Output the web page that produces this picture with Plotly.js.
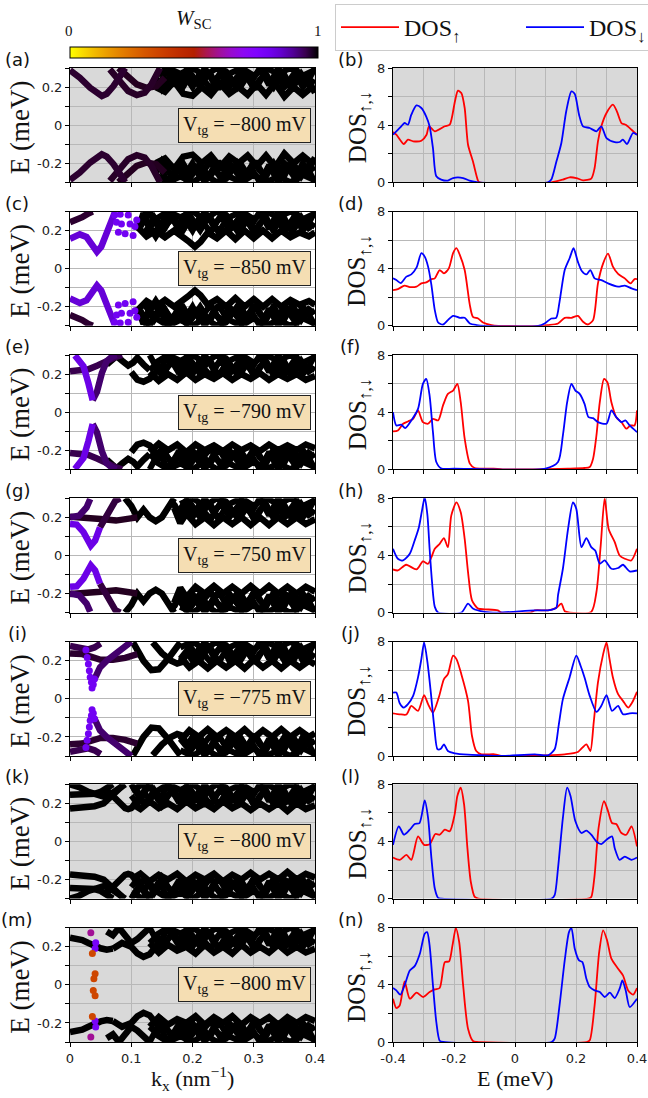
<!DOCTYPE html>
<html><head><meta charset="utf-8">
<script src="https://cdn.plot.ly/plotly-3.0.1.min.js"></script>
<style>body{margin:0;background:#fff}#plot{width:648px;height:1098px}</style>
</head><body><div id="plot"></div>
<script>
// ================= DATA =================
// Right column: DOS curves (E in meV, DOS)
const b_up_E=[-0.4,-0.389,-0.365,-0.351,-0.334,-0.307,-0.29,-0.282,-0.263,-0.23,-0.214,-0.197,-0.187,-0.176,-0.165,-0.154,-0.138,-0.121,-0.116,0.119,0.157,0.179,0.201,0.223,0.25,0.261,0.272,0.283,0.3,0.321,0.334,0.349,0.363,0.382,0.4];
const b_up=[3.52,3.33,2.68,2.98,2.87,2.91,3.33,3.92,3.57,3.92,4.03,5.66,6.41,6.25,5.2,2.63,1.47,0.1,0,0,0.19,0.35,0.3,0.14,0.26,1.0,2.87,3.92,4.85,5.43,4.97,4.15,4.03,3.68,3.33];
const b_dn_E=[-0.4,-0.389,-0.373,-0.362,-0.351,-0.34,-0.323,-0.307,-0.291,-0.28,-0.269,-0.258,-0.242,-0.22,-0.203,-0.17,-0.149,-0.121,0.108,0.119,0.136,0.152,0.168,0.185,0.196,0.21,0.223,0.245,0.267,0.283,0.3,0.327,0.343,0.354,0.367,0.387,0.4];
const b_dn=[3.33,3.57,3.92,4.15,4.03,4.73,5.38,5.2,4.6,3.92,2.4,0.42,0.19,0.12,0.3,0.3,0.12,0,0,0.19,1.47,2.75,4.97,6.36,6.18,4.73,3.92,3.8,3.57,3.92,3.1,2.82,2.82,2.98,2.68,3.45,3.33];

const d_up_E=[-0.4,-0.384,-0.362,-0.345,-0.323,-0.307,-0.291,-0.274,-0.263,-0.247,-0.233,-0.217,-0.203,-0.192,-0.181,-0.165,-0.148,-0.138,-0.121,-0.105,-0.077,-0.055,0.087,0.108,0.141,0.163,0.185,0.206,0.223,0.239,0.256,0.272,0.289,0.305,0.321,0.338,0.36,0.379,0.392,0.4];
const d_up=[2.5,2.57,2.81,2.71,2.74,2.97,3.04,3.27,3.32,3.9,3.67,4.02,5.08,5.43,4.96,3.9,1.45,0.63,0.51,0.23,0.05,0,0,0.05,0.16,0.56,0.56,0.7,0.28,0.09,0.4,2.97,4.37,5.05,4.14,3.63,3.32,2.97,3.27,3.27];
const d_dn_E=[-0.4,-0.389,-0.375,-0.356,-0.34,-0.323,-0.307,-0.296,-0.285,-0.274,-0.263,-0.252,-0.236,-0.22,-0.203,-0.181,-0.165,-0.148,-0.126,-0.1,0.076,0.097,0.119,0.135,0.146,0.163,0.179,0.192,0.206,0.219,0.234,0.247,0.261,0.283,0.305,0.338,0.36,0.382,0.4];
const d_dn=[3.32,3.2,2.99,3.44,3.6,4.07,5.08,4.84,4.14,2.85,1.1,0.23,0.09,0.4,0.7,0.56,0.56,0.16,0.05,0,0,0.16,0.51,0.56,1.68,3.9,4.73,5.43,4.49,3.84,3.6,3.9,3.32,3.2,2.97,2.74,2.81,2.62,2.5];

const f_up_E=[-0.4,-0.384,-0.367,-0.351,-0.334,-0.318,-0.302,-0.285,-0.269,-0.252,-0.236,-0.22,-0.203,-0.189,-0.178,-0.165,-0.148,-0.132,-0.1,-0.07,-0.04,0.174,0.228,0.245,0.256,0.267,0.278,0.292,0.303,0.316,0.332,0.349,0.365,0.378,0.392,0.4];
const f_up=[2.65,2.72,3.19,3.35,3.53,4.12,3.3,3.19,3.53,3.42,4.47,5.28,5.51,5.98,4.7,2.14,0.4,0.09,0.05,0.05,0,0.05,0.09,0.16,0.74,2.37,4.7,6.33,6.09,4.7,3.65,3.3,2.84,3.07,3.07,4.12];
const f_dn_E=[-0.4,-0.389,-0.373,-0.36,-0.34,-0.318,-0.302,-0.291,-0.28,-0.269,-0.258,-0.241,-0.2,0.1,0.141,0.157,0.171,0.185,0.198,0.212,0.228,0.241,0.256,0.272,0.3,0.316,0.332,0.349,0.362,0.376,0.4];
const f_dn=[4.0,3.07,3.12,2.88,3.42,4.23,5.98,6.33,5.16,2.6,0.51,0.05,0.05,0.05,0.51,2.37,4.7,5.98,5.51,5.28,4.58,3.65,3.58,3.3,3.19,4.12,3.65,3.3,3.42,3.07,2.6];

const h_up_E=[-0.4,-0.384,-0.357,-0.323,-0.302,-0.285,-0.274,-0.263,-0.247,-0.233,-0.22,-0.209,-0.192,-0.178,-0.165,-0.154,-0.141,-0.121,-0.099,-0.056,-0.045,0.05,0.065,0.108,0.135,0.152,0.163,0.18,0.25,0.267,0.281,0.294,0.307,0.327,0.343,0.36,0.381,0.4];
const h_up=[3.02,2.95,3.35,3.02,3.58,3.42,3.88,4.47,4.81,5.21,4.58,6.79,7.72,7.02,5.16,2.84,0.86,0.28,0.23,0.16,0,0,0.16,0.16,0.33,0.63,0.09,0,0.05,1.44,4.7,8.0,5.86,4.93,4.0,3.77,3.65,4.47];
const h_dn_E=[-0.4,-0.384,-0.367,-0.345,-0.329,-0.315,-0.305,-0.296,-0.287,-0.28,-0.272,-0.263,-0.252,-0.176,-0.154,-0.138,-0.1,-0.056,0.065,0.108,0.135,0.141,0.157,0.174,0.19,0.201,0.218,0.234,0.25,0.263,0.278,0.294,0.316,0.338,0.354,0.376,0.4];
const h_dn=[4.47,3.77,3.65,4.12,5.05,5.98,7.14,8.07,6.79,4.47,2.14,0.4,0,0,0.63,0.28,0.05,0,0.16,0.16,0.33,1.21,3.07,5.86,7.72,7.26,4.58,5.21,4.58,4.35,3.42,3.65,3.07,3.12,3.35,2.88,2.95];

const j_up_E=[-0.4,-0.378,-0.356,-0.34,-0.318,-0.298,-0.285,-0.269,-0.25,-0.233,-0.22,-0.203,-0.192,-0.176,-0.154,-0.141,-0.127,-0.11,-0.067,-0.04,0.1,0.163,0.206,0.234,0.247,0.258,0.272,0.289,0.3,0.31,0.321,0.338,0.354,0.371,0.384,0.4];
const j_up=[2.99,2.92,2.9,3.51,3.16,4.26,3.63,3.04,4.09,5.38,5.73,7.02,6.78,5.73,3.86,1.4,0.35,0.12,0.12,0,0.05,0.12,0.28,0.82,0.35,2.34,5.15,7.13,7.95,6.78,5.5,4.33,3.86,3.39,3.74,4.49];
const j_dn_E=[-0.4,-0.389,-0.378,-0.365,-0.351,-0.334,-0.318,-0.307,-0.298,-0.287,-0.276,-0.265,-0.254,-0.243,-0.233,-0.22,-0.198,-0.154,-0.1,-0.04,0.065,0.108,0.13,0.143,0.157,0.179,0.201,0.215,0.228,0.245,0.267,0.283,0.3,0.318,0.338,0.354,0.376,0.4];
const j_dn=[4.44,4.44,3.69,3.39,3.63,4.21,5.5,6.78,7.95,6.55,4.44,2.11,0.47,0.51,0.82,0.35,0.19,0.09,0.05,0,0.12,0.05,0.47,2.11,3.98,5.5,7.02,6.32,5.5,4.21,3.09,3.51,4.26,3.16,3.51,2.92,2.99,2.99];

const l_up_E=[-0.4,-0.378,-0.356,-0.34,-0.318,-0.298,-0.28,-0.261,-0.247,-0.23,-0.214,-0.198,-0.189,-0.178,-0.167,-0.156,-0.145,-0.132,-0.12,0.24,0.25,0.261,0.274,0.292,0.305,0.318,0.332,0.349,0.365,0.382,0.4];
const l_up=[2.87,2.71,3.06,2.71,4.35,3.76,3.81,4.52,4.47,4.82,4.71,5.88,7.18,7.76,6.59,3.53,1.18,0.12,0,0,0.12,1.65,4.94,6.82,6.12,5.29,5.22,4.59,4.47,5.06,3.65];
const l_dn_E=[-0.4,-0.381,-0.364,-0.345,-0.329,-0.313,-0.296,-0.285,-0.274,-0.263,-0.252,-0.24,0.12,0.13,0.141,0.157,0.171,0.182,0.198,0.218,0.234,0.25,0.267,0.283,0.3,0.318,0.327,0.343,0.36,0.382,0.4];
const l_dn=[3.76,5.06,4.47,4.82,5.22,5.29,6.87,5.65,2.82,0.71,0.05,0,0,0.24,2.12,5.65,7.76,7.18,5.41,4.59,4.75,4.47,4.0,3.81,4.12,4.35,3.53,2.71,2.94,2.71,2.87];

const n_up_E=[-0.4,-0.389,-0.378,-0.362,-0.345,-0.323,-0.301,-0.28,-0.263,-0.247,-0.23,-0.216,-0.205,-0.194,-0.183,-0.17,-0.154,-0.137,-0.125,0.235,0.245,0.261,0.276,0.289,0.302,0.316,0.338,0.354,0.371,0.387,0.4];
const n_up=[3.03,2.38,2.56,4.24,3.03,3.45,3.15,3.5,3.68,3.78,5.59,5.64,6.76,7.97,7.0,3.96,0.93,0.05,0,0,0.12,2.56,6.29,7.81,7.11,5.83,5.13,4.66,3.61,3.31,3.78];
const n_dn_E=[-0.4,-0.389,-0.376,-0.362,-0.345,-0.329,-0.312,-0.296,-0.288,-0.28,-0.269,-0.258,-0.247,-0.235,0.12,0.13,0.146,0.163,0.177,0.185,0.196,0.21,0.221,0.234,0.245,0.261,0.278,0.294,0.311,0.327,0.343,0.352,0.363,0.376,0.4];
const n_dn=[3.78,3.61,3.31,3.96,5.01,5.31,6.18,7.58,7.69,6.76,3.96,1.4,0.09,0,0,0.23,2.56,5.71,7.69,7.97,6.53,5.71,5.59,4.43,3.85,3.61,3.5,3.15,3.45,3.08,3.73,4.31,3.61,2.45,3.03];

// Left column: band branches (k in nm^-1, E in meV, upper branch; lower branch is -E), weight W_SC
const a_b1_k=[0,.016,.033,.044,.052,.060,.071,.082,.090], a_b1_E=[.288,.249,.196,.165,.153,.165,.205,.258,.30];
const a_b2_k=[.065,.082,.095,.109,.122,.133,.141,.147], a_b2_E=[.293,.223,.179,.158,.170,.214,.267,.30];
const a_b3_k=[.079,.092,.109,.125,.141,.155], a_b3_E=[.30,.267,.214,.196,.205,.249];
const a_edge_k=[.14,.155,.17,.185,.2,.215,.23,.245,.26,.275,.29,.305,.32,.335,.35,.365,.38,.395,.4];
const a_edge_E=[.2,.175,.23,.165,.155,.2,.16,.22,.165,.2,.16,.215,.16,.22,.15,.2,.16,.2,.17];

const c_b1_k=[0,.01,.02,.03,.037], c_b1_E=[.243,.255,.27,.29,.30];
const c_b2_k=[0,.016,.027,.038,.044,.051,.063,.073], c_b2_E=[.157,.18,.166,.115,.089,.115,.217,.294];
const c_b3_k=[.11,.12,.13,.14,.15,.16], c_b3_E=[.2,.29,.22,.17,.22,.29];
const c_dot_k=[.073,.082,.095,.076,.084,.098,.106,.079,.090,.103,.109];
const c_dot_E=[.282,.285,.282,.243,.234,.234,.221,.191,.183,.174,.255];
const c_edge_k=[.11,.125,.14,.155,.17,.185,.195,.204,.213,.225,.24,.255,.27,.285,.3,.315,.33,.345,.36,.375,.39,.4];
const c_edge_E=[.22,.17,.2,.165,.2,.17,.14,.115,.14,.19,.16,.2,.155,.2,.16,.2,.16,.2,.165,.19,.17,.19];

const e_b1_k=[.008,.022,.030,.037], e_b1_E=[.298,.241,.152,.0625];
const e_b2_k=[.037,.044,.052,.06,.068,.076], e_b2_E=[.0625,.107,.205,.268,.29,.30];
const e_b3_k=[0,.015,.03,.045,.06,.075,.085], e_b3_E=[.214,.216,.225,.245,.27,.29,.30];
const e_b4_k=[.06,.07,.076,.085,.095,.103,.11,.12,.13], e_b4_E=[.25,.285,.295,.27,.245,.26,.285,.25,.22];
const e_b5_k=[.10,.11,.12,.13,.14,.15], e_b5_E=[.21,.17,.16,.175,.21,.25];
const e_edge_k=[.13,.145,.16,.175,.19,.205,.22,.235,.25,.265,.28,.295,.31,.325,.34,.355,.37,.385,.4];
const e_edge_E=[.21,.165,.2,.17,.21,.17,.2,.175,.205,.17,.2,.175,.205,.17,.2,.175,.2,.17,.19];

const g_b1_k=[0,.011,.022,.030,.034,.041,.049], g_b1_E=[.165,.162,.122,.07,.052,.078,.148];
const g_b2_k=[.049,.06,.074,.082], g_b2_E=[.148,.217,.287,.30];
const g_b3_k=[0,.015,.027,.033], g_b3_E=[.2,.209,.252,.296];
const g_b4_k=[0,.03,.05,.075,.095,.11], g_b4_E=[.203,.2,.191,.183,.19,.2];
const g_b5_k=[.09,.1,.11,.12,.13,.14,.15,.16,.17], g_b5_E=[.3,.26,.2,.24,.2,.18,.2,.25,.3];
const g_edge_k=[.17,.18,.19,.205,.22,.235,.25,.265,.28,.295,.31,.325,.34,.355,.37,.385,.4];
const g_edge_E=[.25,.17,.22,.165,.2,.16,.2,.165,.2,.16,.2,.16,.2,.165,.2,.165,.19];

const i_dot_k=[.026,.028,.030,.0316,.033,.035,.036,.038,.040];
const i_dot_E=[.256,.217,.183,.148,.113,.087,.057,.075,.104];
const i_b1_k=[.04,.044,.049,.06,.071,.082,.092,.1], i_b1_E=[.104,.125,.165,.2,.23,.255,.28,.30];
const i_b2_k=[0,.015,.03,.04,.05], i_b2_E=[.278,.27,.26,.27,.29];
const i_b3_k=[0,.02,.035,.05,.07,.09,.11], i_b3_E=[.238,.235,.22,.205,.205,.215,.235];
const i_b4_k=[.103,.12,.133,.145,.16,.175,.18], i_b4_E=[.296,.2,.151,.155,.21,.27,.296];
const i_b5_k=[.135,.15,.165,.175,.19], i_b5_E=[.296,.24,.2,.185,.2];
const i_edge_k=[.18,.195,.21,.225,.24,.255,.27,.285,.3,.315,.33,.345,.36,.375,.39,.4];
const i_edge_E=[.22,.165,.2,.16,.2,.165,.2,.16,.205,.165,.2,.16,.2,.165,.2,.18];

const k_b1_k=[0,.015,.03,.045,.055,.065,.08,.09], k_b1_E=[.30,.285,.26,.24,.235,.245,.28,.30];
const k_b2_k=[0,.02,.04,.05,.06,.07], k_b2_E=[.245,.245,.25,.26,.28,.30];
const k_b3_k=[0,.02,.04,.055,.065,.075,.085], k_b3_E=[.173,.175,.185,.2,.23,.26,.29];
const k_b4_k=[.06,.07,.08,.09,.095,.1,.105,.11], k_b4_E=[.27,.24,.2,.175,.17,.175,.19,.21];
const k_edge_k=[.1,.115,.13,.145,.16,.175,.19,.205,.22,.235,.25,.265,.28,.295,.31,.325,.34,.355,.37,.385,.4];
const k_edge_E=[.2,.17,.21,.175,.2,.17,.21,.175,.2,.17,.21,.175,.2,.165,.2,.17,.2,.16,.2,.17,.19];

const m_b1_k=[0,.01,.02,.03,.04,.05,.06,.07], m_b1_E=[.248,.245,.235,.22,.205,.192,.185,.19];
const m_b2_k=[.07,.085,.1,.11,.12,.13,.14,.15], m_b2_E=[.19,.22,.2,.165,.147,.16,.2,.25];
const m_b3_k=[.06,.07,.08,.09,.1,.11,.12,.13], m_b3_E=[.28,.26,.3,.26,.22,.24,.27,.3];
const m_orange_k=[.0365,.041,.039,.038,.041,.0365], m_orange_E=[.165,.058,.032,-.03,-.057,-.166];
const m_magenta_k=[.034,.034], m_magenta_E=[.274,-.274];
const m_violet_k=[.042,.041,.042,.041], m_violet_E=[.221,.191,-.221,-.19];
const m_edge_k=[.13,.145,.16,.175,.19,.205,.22,.235,.25,.265,.28,.295,.31,.325,.34,.355,.37,.385,.4];
const m_edge_E=[.22,.17,.21,.18,.2,.165,.21,.17,.2,.165,.21,.17,.2,.17,.21,.17,.2,.17,.19];

// dense crossing bands at large k (shared)
const fz1_k=[.10,.115,.13,.145,.16,.175,.19,.205,.22,.235,.25,.265,.28,.295,.31,.325,.34,.355,.37,.385,.40];
const fz1_E=[.30,.22,.30,.21,.30,.22,.29,.21,.30,.22,.30,.21,.29,.22,.30,.21,.30,.22,.29,.21,.30];
const fz2_k=[.1075,.1225,.1375,.1525,.1675,.1825,.1975,.2125,.2275,.2425,.2575,.2725,.2875,.3025,.3175,.3325,.3475,.3625,.3775,.3925];
const fz2_E=[.28,.19,.27,.2,.28,.19,.27,.2,.28,.19,.27,.2,.28,.19,.27,.2,.28,.19,.27,.2];
const fz3_k=[.1,.12,.14,.16,.18,.2,.22,.24,.26,.28,.3,.32,.34,.36,.38,.4];
const fz3_E=[.27,.3,.26,.3,.27,.3,.26,.3,.27,.3,.26,.3,.27,.3,.26,.29];
const fz4_k=[.1,.11,.12,.13,.14,.15,.16,.17,.18,.19,.2,.21,.22,.23,.24,.25,.26,.27,.28,.29,.3,.31,.32,.33,.34,.35,.36,.37,.38,.39,.4];
const fz4_E=[.24,.2,.26,.22,.25,.19,.24,.27,.21,.25,.2,.26,.23,.19,.25,.27,.2,.24,.21,.26,.19,.24,.27,.21,.25,.2,.23,.26,.2,.24,.22];

// tick labels
const kTicks=[0,0.1,0.2,0.3,0.4], kTickText=['0','0.1','0.2','0.3','0.4'];
const eTicks=[-0.2,0,0.2], eTickText=['-0.2','0','0.2'];
const dosETicks=[-0.4,-0.2,0,0.2,0.4], dosETickText=['-0.4','-0.2','0','0.2','0.4'];
const dosTicks=[0,4,8], dosTickText=['0','4','8'];

const vtg=['−800','−850','−790','−750','−775','−800','−800'];
const labelsL=['(a)','(c)','(e)','(g)','(i)','(k)','(m)'];
const labelsR=['(b)','(d)','(f)','(h)','(j)','(l)','(n)'];
const grayRows=[true,false,false,false,false,true,true];

// ================= BUILD =================
function gnuR(w){const x=1-w;const r=Math.sqrt(Math.max(0,x)),g=x*x*x,b=Math.max(0,Math.sin(2*Math.PI*x));
  return 'rgb('+Math.round(255*r)+','+Math.round(255*g)+','+Math.round(255*b)+')';}
const cscale=[];for(let i=0;i<=20;i++){cscale.push([i/20,gnuR(i/20)]);}

const rows=[
 {bands:[[a_b3_k,a_b3_E,.98],[a_b2_k,a_b2_E,.975],[a_b1_k,a_b1_E,.97]],edge:[a_edge_k,a_edge_E],start:.14,dots:[],dos:[b_up_E,b_up,b_dn_E,b_dn]},
 {bands:[[c_b3_k,c_b3_E,1],[c_b1_k,c_b1_E,.97],[c_b2_k,c_b2_E,.84]],edge:[c_edge_k,c_edge_E],start:.115,dots:[[c_dot_k,c_dot_E,.8,true]],dos:[d_up_E,d_up,d_dn_E,d_dn]},
 {bands:[[e_b4_k,e_b4_E,1],[e_b5_k,e_b5_E,1],[e_b3_k,e_b3_E,.95],[e_b2_k,e_b2_E,.93],[e_b1_k,e_b1_E,.82]],edge:[e_edge_k,e_edge_E],start:.13,dots:[],dos:[f_up_E,f_up,f_dn_E,f_dn]},
 {bands:[[g_b5_k,g_b5_E,1],[g_b4_k,g_b4_E,.98],[g_b2_k,g_b2_E,.96],[g_b3_k,g_b3_E,.93],[g_b1_k,g_b1_E,.82]],edge:[g_edge_k,g_edge_E],start:.165,dots:[],dos:[h_up_E,h_up,h_dn_E,h_dn]},
 {bands:[[i_b4_k,i_b4_E,1],[i_b5_k,i_b5_E,1],[i_b3_k,i_b3_E,.97],[i_b2_k,i_b2_E,.95],[i_b1_k,i_b1_E,.93]],edge:[i_edge_k,i_edge_E],start:.18,dots:[[i_dot_k,i_dot_E,.8,true]],dos:[j_up_E,j_up,j_dn_E,j_dn]},
 {bands:[[k_b1_k,k_b1_E,1],[k_b2_k,k_b2_E,1],[k_b3_k,k_b3_E,1],[k_b4_k,k_b4_E,1]],edge:[k_edge_k,k_edge_E],start:.1,dots:[],dos:[l_up_E,l_up,l_dn_E,l_dn]},
 {bands:[[m_b1_k,m_b1_E,1],[m_b2_k,m_b2_E,1],[m_b3_k,m_b3_E,1]],edge:[m_edge_k,m_edge_E],start:.13,
   dots:[[m_magenta_k,m_magenta_E,.6,false],[m_violet_k,m_violet_E,.78,false],[m_orange_k,m_orange_E,.35,false]],dos:[n_up_E,n_up,n_dn_E,n_dn]}
];

const W=648,H=1098;
const LX=[70,315],RX=[393,637];
const tops=[68,211.5,355,498.3,641.7,784.3,927.7],PH=114.3;
const px=v=>v/W, py=v=>1-v/H;
const traces=[],layout={width:W,height:H,margin:{l:0,r:0,t:0,b:0,autoexpand:false},paper_bgcolor:'#fff',plot_bgcolor:'rgba(0,0,0,0)',
  showlegend:true,shapes:[],annotations:[],
  legend:{orientation:'h',x:px(335),y:py(4),xanchor:'left',yanchor:'top',bgcolor:'#fff',bordercolor:'#cccccc',borderwidth:1,
    font:{family:'Liberation Serif',size:24,color:'#111'},entrywidth:112,itemwidth:58}};
const serif='Liberation Serif', sans='DejaVu Sans';
const tickF={family:sans,size:13,color:'#222'};
const gridc='#b8b8b8';
function ax(n){return n===1?'':String(n);}
function sel(k,E,s){const kk=[],ee=[];for(let i=0;i<k.length;i++){if(k[i]>=s){kk.push(k[i]);ee.push(E[i]);}}return [kk,ee];}
function line(n,k,E,w,width){
  const col=gnuR(w);
  traces.push({x:k,y:E,xaxis:'x'+ax(n),yaxis:'y'+ax(n),mode:'lines',line:{color:col,width:width},hoverinfo:'skip',showlegend:false});
  traces.push({x:k,y:E.map(v=>-v),xaxis:'x'+ax(n),yaxis:'y'+ax(n),mode:'lines',line:{color:col,width:width},hoverinfo:'skip',showlegend:false});
}
function axisBase(extra){
  return Object.assign({ticks:'outside',ticklen:4,tickcolor:'#000',showline:true,mirror:true,linecolor:'#000',linewidth:1,
    showgrid:true,gridcolor:gridc,gridwidth:1,zeroline:false,tickfont:tickF,fixedrange:true,tickmode:'array'},extra);
}
const minorT=(dt)=>({dtick:dt,tick0:0,ticks:'outside',ticklen:4,tickcolor:'#000',showgrid:true,gridcolor:gridc,gridwidth:1});
let scaleShown=false;
rows.forEach((r,i)=>{
  const nL=2*i+1,nR=2*i+2;
  const top=tops[i],bot=top+PH;
  const yd=[py(bot),py(top)];
  const last=(i===6);
  layout['xaxis'+ax(nL)]=axisBase({domain:[px(LX[0]),px(LX[1])],range:[0,0.4],anchor:'y'+ax(nL),tickvals:kTicks,ticktext:kTickText,showticklabels:last});
  layout['yaxis'+ax(nL)]=axisBase({domain:yd,range:[-0.3,0.3],anchor:'x'+ax(nL),tickvals:eTicks,ticktext:eTickText,minor:minorT(0.1)});
  layout['xaxis'+ax(nR)]=axisBase({domain:[px(RX[0]),px(RX[1])],range:[-0.4,0.4],anchor:'y'+ax(nR),tickvals:dosETicks,ticktext:dosETickText,showticklabels:last,minor:minorT(0.1)});
  layout['yaxis'+ax(nR)]=axisBase({domain:yd,range:[0,8],anchor:'x'+ax(nR),tickvals:dosTicks,ticktext:dosTickText,minor:minorT(2)});
  if(grayRows[i]){
    [nL,nR].forEach(n=>layout.shapes.push({type:'rect',xref:'x'+ax(n)+' domain',yref:'y'+ax(n)+' domain',x0:0,x1:1,y0:0,y1:1,
      fillcolor:'#d9d9d9',line:{width:0},layer:'below'}));
  }
  const s=r.start;
  [[fz1_k,fz1_E],[fz2_k,fz2_E],[fz3_k,fz3_E],[fz4_k,fz4_E]].forEach(f=>{const q=sel(f[0],f[1],s);line(nL,q[0],q[1],1,6);});
  line(nL,r.edge[0],r.edge[1],1,6.5);
  r.bands.forEach(b=>line(nL,b[0],b[1],b[2],6.5));
  r.dots.forEach(d=>{
    const k=d[0],E=d[1];
    const xs=d[3]?k.concat(k):k, ys=d[3]?E.concat(E.map(v=>-v)):E;
    const m={size:7,color:xs.map(()=>d[2]),colorscale:cscale,cmin:0,cmax:1,showscale:false};
    if(!scaleShown){scaleShown=true;m.showscale=true;
      m.colorbar={orientation:'h',x:px((LX[0]+318)/2),xanchor:'center',y:py(59),yanchor:'bottom',len:248,lenmode:'pixels',
        thickness:11,thicknessmode:'pixels',outlinewidth:1,outlinecolor:'#000',showticklabels:false,ticks:'',xpad:0,ypad:0};}
    traces.push({x:xs,y:ys,xaxis:'x'+ax(nL),yaxis:'y'+ax(nL),mode:'markers',marker:m,hoverinfo:'skip',showlegend:false});
  });
  traces.push({x:r.dos[0],y:r.dos[1],xaxis:'x'+ax(nR),yaxis:'y'+ax(nR),mode:'lines',line:{color:'#ff0000',width:1.8,shape:'spline',smoothing:0.7},
    name:'DOS<sub>↑</sub>',showlegend:i===0,hoverinfo:'skip'});
  traces.push({x:r.dos[2],y:r.dos[3],xaxis:'x'+ax(nR),yaxis:'y'+ax(nR),mode:'lines',line:{color:'#0000ff',width:1.8,shape:'spline',smoothing:0.7},
    name:'DOS<sub>↓</sub>',showlegend:i===0,hoverinfo:'skip'});
  layout.annotations.push({xref:'x'+ax(nL),yref:'y'+ax(nL),x:0.394,y:0,xanchor:'right',yanchor:'middle',showarrow:false,
    text:'V<sub>tg</sub> = '+vtg[i]+' mV',font:{family:serif,size:20,color:'#111'},bgcolor:'#f5deb3',bordercolor:'#222',borderwidth:1,borderpad:4});
  layout.annotations.push({xref:'paper',yref:'paper',x:px(17),y:py(top-8),xanchor:'center',yanchor:'middle',showarrow:false,
    text:labelsL[i],font:{family:sans,size:18,color:'#111'}});
  layout.annotations.push({xref:'paper',yref:'paper',x:px(350),y:py(top-8),xanchor:'center',yanchor:'middle',showarrow:false,
    text:labelsR[i],font:{family:sans,size:18,color:'#111'}});
  layout.annotations.push({xref:'paper',yref:'paper',x:px(20),y:py(top+PH/2+2),xanchor:'center',yanchor:'middle',showarrow:false,textangle:-90,
    text:'E (meV)',font:{family:serif,size:27,color:'#111'}});
  layout.annotations.push({xref:'paper',yref:'paper',x:px(359),y:py(top+PH/2+2),xanchor:'center',yanchor:'middle',showarrow:false,textangle:-90,
    text:'DOS<sub>↑,↓</sub>',font:{family:serif,size:25,color:'#111'}});
});
layout.annotations.push({xref:'paper',yref:'paper',x:px(192),y:py(1078),xanchor:'center',yanchor:'middle',showarrow:false,
  text:'k<sub>x</sub> (nm<sup>−1</sup>)',font:{family:serif,size:22,color:'#111'}});
layout.annotations.push({xref:'paper',yref:'paper',x:px(515),y:py(1078),xanchor:'center',yanchor:'middle',showarrow:false,
  text:'E (meV)',font:{family:serif,size:22,color:'#111'}});
layout.annotations.push({xref:'paper',yref:'paper',x:px(193),y:py(19),xanchor:'center',yanchor:'middle',showarrow:false,
  text:'<i>W</i><sub>SC</sub>',font:{family:serif,size:21,color:'#111'}});
layout.annotations.push({xref:'paper',yref:'paper',x:px(69),y:py(41),xanchor:'center',yanchor:'bottom',showarrow:false,
  text:'0',font:{family:serif,size:15,color:'#111'}});
layout.annotations.push({xref:'paper',yref:'paper',x:px(318),y:py(41),xanchor:'center',yanchor:'bottom',showarrow:false,
  text:'1',font:{family:serif,size:15,color:'#111'}});

Plotly.newPlot('plot',traces,layout,{staticPlot:true,displayModeBar:false}).then(()=>{
  document.querySelectorAll('#plot text').forEach(t=>{if(!t.textContent.trim()) t.remove();});
});
</script></body></html>
